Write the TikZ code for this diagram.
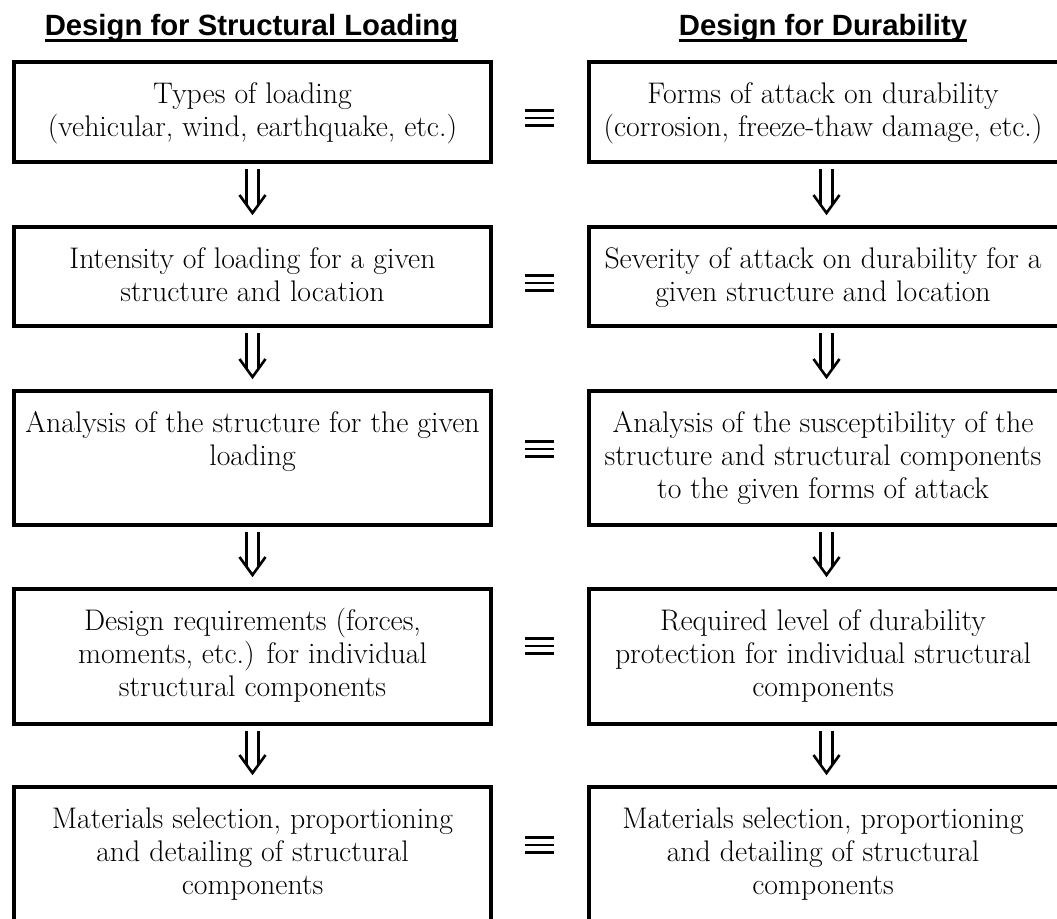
\documentclass[tikz,border=0pt]{standalone}
\usepackage{fontspec}
\newfontfamily\hdrfont{Liberation Sans}
\usetikzlibrary{calc}
\tikzset{
  box/.style={draw, line width=4.5pt, inner sep=0pt, outer sep=0pt, minimum width=477pt},
  rbox/.style={box, minimum width=475pt},
  txt/.style={anchor=north, inner sep=0pt, align=center, font=\fontsize{29.8}{33}\selectfont},
  hdr/.style={anchor=base, inner sep=0pt, font=\hdrfont\bfseries\fontsize{29.3}{35}\selectfont},
  uline/.style={line width=3pt},
  arr/.style={line width=2.6pt},
  arrhead/.style={line width=2.6pt, line join=miter, miter limit=10},
  eqbar/.style={line width=2.8pt},
}
\newcommand\dnarr[2]{%
  \draw[arr] ($(#1.south)+(-6,7)$) -- ($(#2.north)+(-6,-23)$);
  \draw[arr] ($(#1.south)+(6,7)$) -- ($(#2.north)+(6,-23)$);
  \draw[arrhead] ($(#2.north)+(-13,-32)$) -- ($(#2.north)+(0,-14)$) -- ($(#2.north)+(13,-32)$);
}
\newcommand\eqvmark[1]{%
  \draw[eqbar] ($(#1)+(-14.5,-7.5)$) -- ($(#1)+(14.5,-7.5)$);
  \draw[eqbar] ($(#1)+(-14.5,0)$) -- ($(#1)+(14.5,0)$);
  \draw[eqbar] ($(#1)+(-14.5,7.5)$) -- ($(#1)+(14.5,7.5)$);
}
\begin{document}
\begin{tikzpicture}[x=1pt,y=-1pt]
\useasboundingbox (0,0) rectangle (1057,918);
\clip (0,0) rectangle (1057,918);

% headers
\node[hdr] (hL) at (251.5,35) {Design for Structural Loading};
\node[hdr] (hR) at (823,35) {Design for Durability};
\draw[uline] ($(hL.base west)+(0,5.5)$) -- ($(hL.base east)+(0,5.5)$);
\draw[uline] ($(hR.base west)+(0,5.5)$) -- ($(hR.base east)+(0,5.5)$);

% left column boxes
\node[box, minimum height=100pt] (L1) at (252.5,112) {};
\node[box, minimum height=99pt]  (L2) at (252.5,276.5) {};
\node[box, minimum height=134pt] (L3) at (252.5,458) {};
\node[box, minimum height=135pt] (L4) at (252.5,656.5) {};
\node[box, minimum height=143pt] (L5) at (252.5,858.5) {};

% right column boxes
\node[rbox, minimum height=100pt] (R1) at (826.5,112) {};
\node[rbox, minimum height=99pt]  (R2) at (826.5,276.5) {};
\node[rbox, minimum height=134pt] (R3) at (826.5,458) {};
\node[rbox, minimum height=135pt] (R4) at (826.5,656.5) {};
\node[rbox, minimum height=143pt] (R5) at (826.5,858.5) {};

% texts
\node[txt] (tL1) at ($(L1.north)+(0,18)$) {\strut Types of loading\\(vehicular, wind, earthquake, etc.)};
\node[txt] (tL2) at ($(L2.north)+(0,18)$) {\strut Intensity of loading for a given\\structure and location};
\node[txt] (tL3) at ($(L3.north)+(0,18)$) {\strut Analysis of the structure for the given\\loading};
\node[txt] (tL4) at ($(L4.north)+(0,18)$) {\strut Design requirements (forces,\\moments, etc.) for individual\\structural components};
\node[txt] (tL5) at ($(L5.north)+(0,18)$) {\strut Materials selection, proportioning\\and detailing of structural\\components};

\node[txt] (tR1) at ($(R1.north)+(-3.5,18)$) {\strut Forms of attack on durability\\(corrosion, freeze-thaw damage, etc.)};
\node[txt] (tR2) at ($(R2.north)+(-3.5,18)$) {\strut Severity of attack on durability for a\\given structure and location};
\node[txt] (tR3) at ($(R3.north)+(-3.5,18)$) {\strut Analysis of the susceptibility of the\\structure and structural components\\to the given forms of attack};
\node[txt] (tR4) at ($(R4.north)+(-3.5,18)$) {\strut Required level of durability\\protection for individual structural\\components};
\node[txt] (tR5) at ($(R5.north)+(-3.5,18)$) {\strut Materials selection, proportioning\\and detailing of structural\\components};

% arrows
\dnarr{L1}{L2}
\dnarr{L2}{L3}
\dnarr{L3}{L4}
\dnarr{L4}{L5}
\dnarr{R1}{R2}
\dnarr{R2}{R3}
\dnarr{R3}{R4}
\dnarr{R4}{R5}

% equivalence marks
\coordinate (e1) at (539.5,118);
\coordinate (e2) at (539.5,283);
\coordinate (e3) at (539.5,449);
\coordinate (e4) at (539.5,646);
\coordinate (e5) at (539.5,845);
\eqvmark{e1}
\eqvmark{e2}
\eqvmark{e3}
\eqvmark{e4}
\eqvmark{e5}
\end{tikzpicture}
\end{document}
